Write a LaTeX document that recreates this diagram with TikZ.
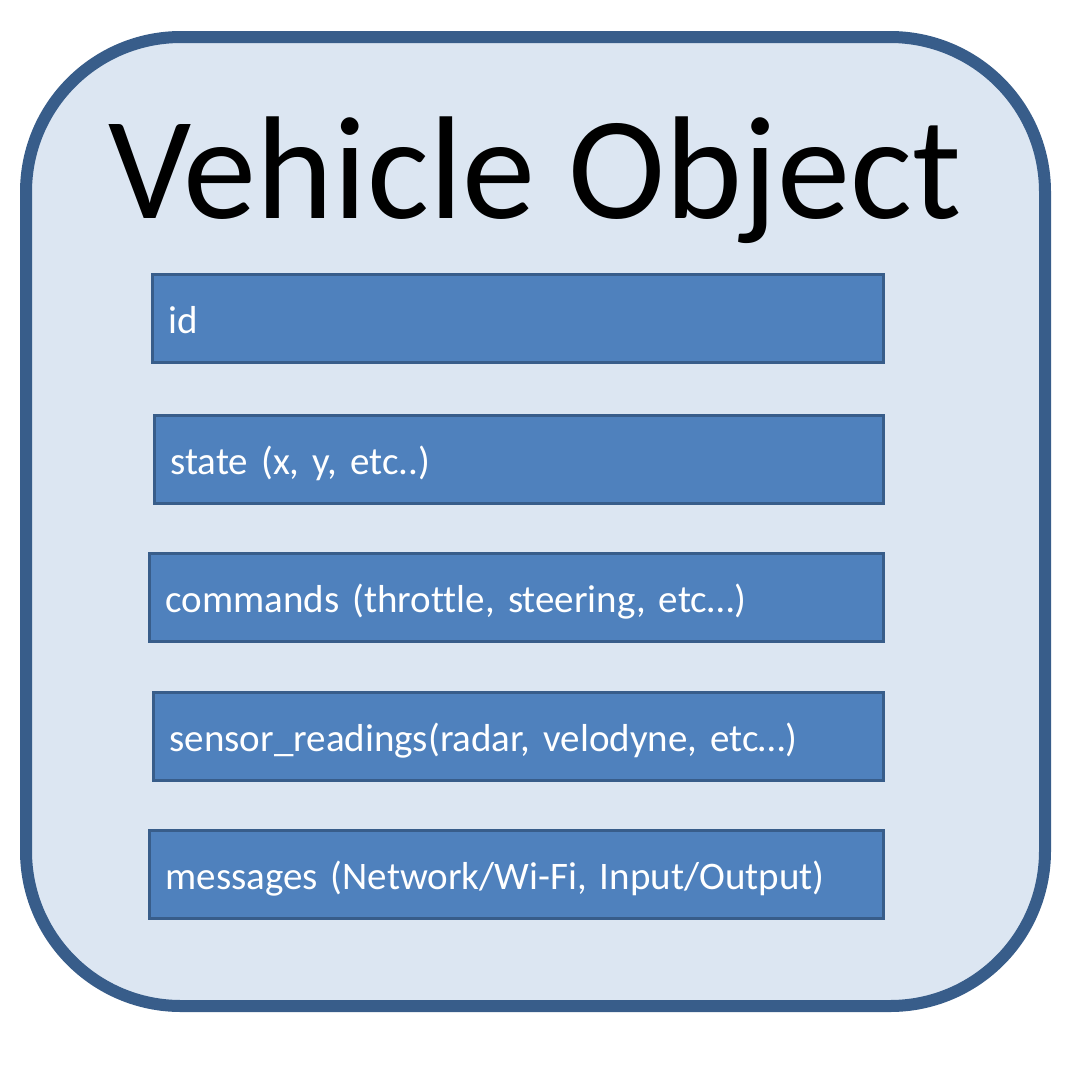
\documentclass[tikz,border=0pt]{standalone}
\usepackage{fontspec}
\setmainfont{Carlito}[Ligatures={NoCommon}]
\usepackage{xcolor}
\usepackage{tikz}
\usetikzlibrary{positioning}

\definecolor{panelfill}{HTML}{DCE6F2}
\definecolor{paneldraw}{HTML}{385D8A}
\definecolor{fieldfill}{HTML}{4F81BD}

\begin{document}
\begin{tikzpicture}[
    x=1pt, y=-1pt,
    panel/.style={rectangle, draw=paneldraw, fill=panelfill, line width=12pt,
                  rounded corners=155pt, minimum width=1019pt, minimum height=969pt},
    field/.style={rectangle, draw=paneldraw, fill=fieldfill, line width=3pt,
                  minimum height=88pt, inner xsep=16pt, align=left, anchor=west,
                  text=white, text height=33pt, text depth=3pt,
                  font=\fontsize{39}{45}\selectfont},
]
    \useasboundingbox (0,0) rectangle (1076,1066);

    % Outer object
    \node[panel] (vehicle) at (535.5,521.5) {};

    % Title
    \node[anchor=base, font=\fontsize{146.5}{160}\selectfont] (title) at (535,218) {Vehicle Object};

    % Fields
    \node[field, text width=699pt] (id)  at (151,318) {id};
    \node[field, text width=697pt] (sta) at (153,459) {state (x, y, etc..)};
    \node[field, text width=702pt] (cmd) at (148,597) {commands (throttle, steering, etc\dots)};
    \node[field, text width=698pt] (sen) at (152,736) {sensor\_readings(radar, velodyne, etc\dots)};
    \node[field, text width=702pt] (msg) at (148,874) {messages (Network/Wi-Fi, Input/Output)};
\end{tikzpicture}
\end{document}
